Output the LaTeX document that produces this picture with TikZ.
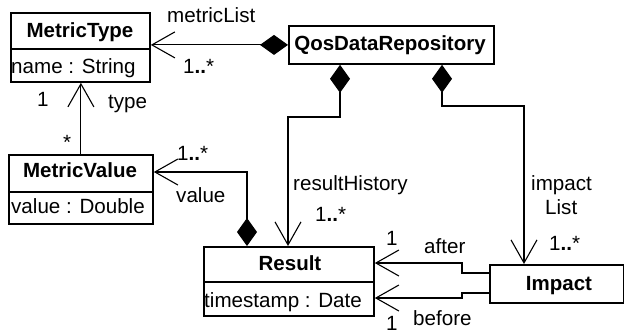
\documentclass[tikz,border=0pt]{standalone}
\usepackage{fontspec}
\setmainfont{Liberation Sans}
\usetikzlibrary{arrows.meta}
\begin{document}
\begin{tikzpicture}[x=1pt, y=-1pt,
  classbox/.style={draw, line width=1.8pt, inner sep=0pt, anchor=north west},
  divider/.style={line width=1.8pt},
  assoc/.style={line width=1.1pt},
  barb/.tip={Straight Barb[length=23pt,width=26pt]},
  comp/.tip={Diamond[length=28pt,width=20pt,fill=black]},
  txt/.style={inner sep=0pt, anchor=base west, font=\fontsize{20.6}{24}\selectfont},
  ttl/.style={inner sep=0pt, anchor=base, font=\fontsize{20.5}{24}\selectfont\bfseries}]
\useasboundingbox (0,0) rectangle (624,335);

% classes
\node[classbox, minimum width=139pt, minimum height=69pt] (mt) at (10,12) {};
\draw[divider] (mt.west |- 0,49) -- (mt.east |- 0,49);
\node[ttl] (mtname) at (80,37.5) {MetricType};
\node[txt] (mtattr) at (11,73) {name : String};

\node[classbox, minimum width=205pt, minimum height=38pt] (qdr) at (288,25) {};
\node[ttl] (qdrname) at (390,50) {QosDataRepository};

\node[classbox, minimum width=144pt, minimum height=69pt] (mv) at (8,154) {};
\draw[divider] (mv.west |- 0,192) -- (mv.east |- 0,192);
\node[ttl] (mvname) at (80,177) {MetricValue};
\node[txt] (mvattr) at (11,213) {value : Double};

\node[classbox, minimum width=170pt, minimum height=69pt] (res) at (203,246) {};
\draw[divider] (res.west |- 0,282) -- (res.east |- 0,282);
\node[ttl] (resname) at (290,270) {Result};
\node[txt] (resattr) at (204,307) {timestamp : Date};

\node[classbox, minimum width=134pt, minimum height=38pt] (imp) at (489,264) {};
\node[ttl] (impname) at (559,290) {Impact};

% associations
\draw[assoc, {comp}-{barb}] (qdr.west) -- (mt.east |- qdr.west);
\draw[assoc, -{barb}] (mv.north) -- (mv.north |- mt.south);
\draw[assoc, {comp}-{barb}] (res.north -| 247,0) |- (mv.east |- 0,172);
\draw[assoc, {comp}-{barb}] (qdr.south -| 340,0) |- (288,117) -- (res.north -| 288,0);
\draw[assoc, {comp}-{barb}] (qdr.south -| 442,0) |- (524,106) -- (imp.north -| 524,0);
\draw[assoc, -{barb}] (imp.west |- 0,273) -| (462,263) -- (res.east |- 0,263);
\draw[assoc, -{barb}] (imp.west |- 0,293) -| (462,298) -- (res.east |- 0,298);

% role names and multiplicities
\node[txt] at (167,22.5) {metricList};
\node[txt] at (183,73) {1\textbf{..}*};
\node[txt] at (37,106) {1};
\node[txt] at (108,108) {type};
\node[txt] at (63,149) {*};
\node[txt] at (177,160) {1\textbf{..}*};
\node[txt] at (176,202) {value};
\node[txt] at (293,190) {resultHistory};
\node[txt] at (315,221) {1\textbf{..}*};
\node[txt] at (531,190) {impact};
\node[txt] at (545,214) {List};
\node[txt] at (549,250) {1\textbf{..}*};
\node[txt] at (386,245) {1};
\node[txt] at (424,253) {after};
\node[txt] at (386,330.5) {1};
\node[txt] at (413,325) {before};
\end{tikzpicture}
\end{document}
